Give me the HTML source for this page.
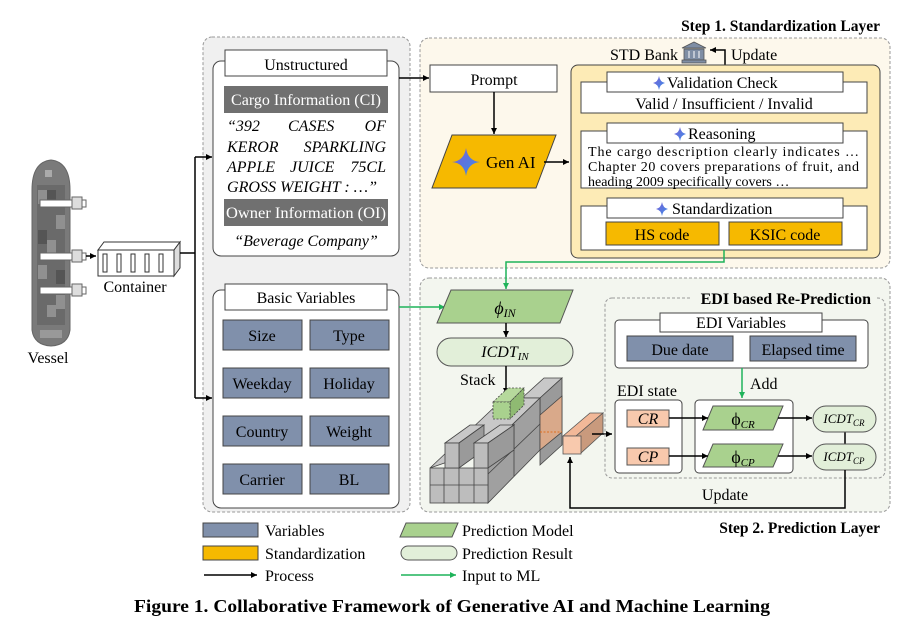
<!DOCTYPE html>
<html><head><meta charset="utf-8"><style>
html,body{margin:0;padding:0;background:#fff;font-family:"Liberation Serif",serif}
svg{display:block;font-family:"Liberation Serif",serif}
svg text, svg tspan{font-family:"Liberation Serif",serif !important}
</style></head><body>
<svg width="918" height="632" viewBox="0 0 918 632" xmlns="http://www.w3.org/2000/svg" style="font-family:'Liberation Serif',serif">
<defs>
<marker id="ab" markerWidth="8" markerHeight="8" refX="6" refY="3" orient="auto" markerUnits="userSpaceOnUse"><path d="M0,0 L6,3 L0,6 z" fill="#000"/></marker>
<marker id="ag" markerWidth="8" markerHeight="8" refX="6" refY="3" orient="auto" markerUnits="userSpaceOnUse"><path d="M0,0 L6,3 L0,6 z" fill="#1fb35a"/></marker>
<linearGradient id="star" x1="0" y1="0" x2="1" y2="1"><stop offset="0" stop-color="#7b5fd6"/><stop offset="1" stop-color="#3a8ee8"/></linearGradient>
</defs>
<g font-size="16" style="font-family:'Liberation Serif',serif">
<text x="880" y="31" text-anchor="end" font-weight="bold" font-size="15.5">Step 1. Standardization Layer</text>
<text x="880" y="533" text-anchor="end" font-weight="bold" font-size="15.5">Step 2. Prediction Layer</text>

<rect x="203" y="37" width="207" height="475" rx="9" fill="#f0f0f0" stroke="#999" stroke-dasharray="3,2"/>
<rect x="213" y="61" width="186" height="195" rx="8" fill="#fff" stroke="#444"/>
<rect x="225" y="50" width="162" height="26" fill="#fff" stroke="#444"/>
<text x="306" y="70" text-anchor="middle">Unstructured</text>
<rect x="224" y="86" width="164" height="27" fill="#707070"/>
<text x="306" y="105" text-anchor="middle" fill="#fff">Cargo Information (CI)</text>
<g font-style="italic">
<text x="227" y="131">“392</text><text x="288" y="131">CASES</text><text x="386" y="131" text-anchor="end">OF</text>
<text x="227" y="152">KEROR</text><text x="386" y="152" text-anchor="end">SPARKLING</text>
<text x="227" y="172">APPLE</text><text x="290" y="172">JUICE</text><text x="386" y="172" text-anchor="end">75CL</text>
<text x="227" y="192" textLength="150" lengthAdjust="spacingAndGlyphs">GROSS WEIGHT : …”</text>
</g>
<rect x="224" y="199" width="164" height="27" fill="#707070"/>
<text x="306" y="218" text-anchor="middle" fill="#fff" textLength="160" lengthAdjust="spacingAndGlyphs">Owner Information (OI)</text>
<text x="306" y="246" text-anchor="middle" font-style="italic">“Beverage Company”</text>

<rect x="213" y="290" width="186" height="218" rx="8" fill="#fff" stroke="#444"/>
<rect x="225" y="284" width="162" height="26" fill="#fff" stroke="#444"/>
<text x="306" y="303" text-anchor="middle">Basic Variables</text>
<g fill="#8090ab" stroke="#444">
<rect x="223" y="320" width="79" height="30"/><rect x="310" y="320" width="79" height="30"/>
<rect x="223" y="368" width="79" height="30"/><rect x="310" y="368" width="79" height="30"/>
<rect x="223" y="416" width="79" height="30"/><rect x="310" y="416" width="79" height="30"/>
<rect x="223" y="464" width="79" height="30"/><rect x="310" y="464" width="79" height="30"/>
</g>
<g text-anchor="middle">
<text x="262" y="341">Size</text><text x="349" y="341">Type</text>
<text x="262" y="389">Weekday</text><text x="349" y="389">Holiday</text>
<text x="262" y="437">Country</text><text x="349" y="437">Weight</text>
<text x="262" y="485">Carrier</text><text x="349" y="485">BL</text>
</g>

<path d="M32,190 Q32,162 51,160 Q70,162 70,190 L70,330 Q68,345 51,346 Q34,345 32,330 Z" fill="#7a7a7a" stroke="#666"/>
<rect x="37" y="185" width="28" height="140" fill="#6a6a6a"/>
<g fill="#909090"><rect x="38" y="190" width="9" height="14"/><rect x="56" y="215" width="9" height="14"/><rect x="47" y="240" width="9" height="14"/><rect x="38" y="265" width="9" height="14"/><rect x="56" y="295" width="9" height="14"/><rect x="47" y="305" width="9" height="12"/></g>
<g fill="#555"><rect x="47" y="190" width="9" height="14"/><rect x="38" y="230" width="9" height="14"/><rect x="56" y="270" width="9" height="14"/></g>
<rect x="45" y="170" width="7" height="7" fill="#aaa"/>
<rect x="40" y="330" width="22" height="8" fill="#999"/>
<g fill="#fff" stroke="#666">
<rect x="40" y="200" width="32" height="7"/><rect x="72" y="197" width="10" height="12" fill="#ddd"/><rect x="82" y="200" width="4" height="7"/>
<rect x="40" y="253" width="32" height="7"/><rect x="72" y="250" width="10" height="12" fill="#ddd"/><rect x="82" y="253" width="4" height="7"/>
<rect x="40" y="287" width="32" height="7"/><rect x="72" y="284" width="10" height="12" fill="#ddd"/><rect x="82" y="287" width="4" height="7"/>
</g>
<text x="48" y="363" text-anchor="middle">Vessel</text>
<line x1="86" y1="256" x2="96" y2="256" stroke="#000" stroke-width="1.5" marker-end="url(#ab)"/>
<path d="M98,250 L104,242 L180,242 L174,250 Z" fill="#fff" stroke="#333"/>
<path d="M174,250 L180,242 L180,268 L174,276 Z" fill="#ddd" stroke="#333"/>
<rect x="98" y="250" width="76" height="26" fill="#fff" stroke="#333"/>
<g fill="#fff" stroke="#333"><rect x="103" y="254" width="4" height="18"/><rect x="117" y="254" width="4" height="18"/><rect x="131" y="254" width="4" height="18"/><rect x="145" y="254" width="4" height="18"/><rect x="159" y="254" width="4" height="18"/></g>
<text x="135" y="292" text-anchor="middle">Container</text>
<path d="M180,253 L195,253" stroke="#000" stroke-width="1.5" fill="none"/>
<path d="M195,157 L195,398" stroke="#000" stroke-width="1.5" fill="none"/>
<line x1="195" y1="157" x2="212" y2="157" stroke="#000" stroke-width="1.5" marker-end="url(#ab)"/>
<line x1="195" y1="398" x2="212" y2="398" stroke="#000" stroke-width="1.5" marker-end="url(#ab)"/>

<rect x="420" y="38" width="470" height="230" rx="9" fill="#fdf8ec" stroke="#999" stroke-dasharray="3,2"/>
<line x1="399" y1="78" x2="429" y2="78" stroke="#000" stroke-width="1.5" marker-end="url(#ab)"/>
<rect x="430" y="65" width="127" height="27" fill="#fff" stroke="#444"/>
<text x="494" y="85" text-anchor="middle">Prompt</text>
<line x1="494" y1="92" x2="494" y2="134" stroke="#000" stroke-width="1.5" marker-end="url(#ab)"/>
<path d="M452,135 L556,135 L536,188 L432,188 Z" fill="#f6b900" stroke="#444"/>
<path d="M466,148 Q468,161 480,162 Q468,163 466,176 Q464,163 452,162 Q464,161 466,148 Z" fill="url(#star)"/>
<text x="486" y="168" font-size="17">Gen AI</text>
<line x1="544" y1="162" x2="569" y2="162" stroke="#000" stroke-width="1.5" marker-end="url(#ab)"/>

<text x="678" y="60" text-anchor="end">STD Bank</text>
<g fill="#7f8ea5" stroke="#555" stroke-width="0.8"><path d="M682,48 L694,42 L706,48 Z"/><rect x="684" y="49" width="20" height="11"/><rect x="682" y="60" width="24" height="3"/></g>
<g stroke="#fff"><line x1="689" y1="51" x2="689" y2="58"/><line x1="694" y1="51" x2="694" y2="58"/><line x1="699" y1="51" x2="699" y2="58"/></g>
<path d="M725,65 L725,50 L710,50" stroke="#000" stroke-width="1.5" fill="none" marker-end="url(#ab)"/>
<text x="731" y="60">Update</text>

<rect x="571" y="65" width="309" height="193" rx="7" fill="#fdebb6" stroke="#444"/>
<rect x="581" y="82" width="286" height="31" fill="#fff" stroke="#444"/>
<rect x="607" y="72" width="236" height="20" fill="#fff" stroke="#444"/>
<path d="M659,76 Q660,82 665,83 Q660,84 659,90 Q658,84 653,83 Q658,82 659,76Z" fill="url(#star)"/>
<text x="667" y="88">Validation Check</text>
<text x="724" y="109" text-anchor="middle">Valid / Insufficient / Invalid</text>

<rect x="581" y="131" width="286" height="57" fill="#fff" stroke="#444"/>
<rect x="607" y="123" width="236" height="20" fill="#fff" stroke="#444"/>
<path d="M680,127 Q681,133 686,134 Q681,135 680,141 Q679,135 674,134 Q679,133 680,127Z" fill="url(#star)"/>
<text x="688" y="139">Reasoning</text>
<g font-size="14">
<text x="588" y="156" textLength="271" lengthAdjust="spacing">The cargo description clearly indicates …</text>
<text x="588" y="171" textLength="271" lengthAdjust="spacing">Chapter 20 covers preparations of fruit, and</text>
<text x="588" y="186">heading 2009 specifically covers …</text>
</g>

<rect x="581" y="206" width="286" height="44" fill="#fff" stroke="#444"/>
<rect x="607" y="198" width="236" height="20" fill="#fff" stroke="#444"/>
<path d="M662,202 Q663,208 668,209 Q663,210 662,216 Q661,210 656,209 Q661,208 662,202Z" fill="url(#star)"/>
<text x="672" y="214">Standardization</text>
<rect x="606" y="222" width="113" height="23" fill="#f6b900" stroke="#444"/>
<rect x="729" y="222" width="113" height="23" fill="#f6b900" stroke="#444"/>
<text x="662" y="240" text-anchor="middle">HS code</text>
<text x="785" y="240" text-anchor="middle">KSIC code</text>

<rect x="420" y="278" width="470" height="234" rx="9" fill="#f3f6ef" stroke="#999" stroke-dasharray="3,2"/>
<path d="M724,250 L724,262 L506,262 L506,289" stroke="#1fb35a" stroke-width="1.5" fill="none" marker-end="url(#ag)"/>
<line x1="399" y1="307" x2="445" y2="307" stroke="#1fb35a" stroke-width="1.5" marker-end="url(#ag)"/>
<path d="M451,290 L573,290 L560,323 L437,323 Z" fill="#a9d18e" stroke="#555"/>
<text x="505" y="314" text-anchor="middle" font-style="italic" font-size="18">ϕ<tspan font-size="12" dy="3">IN</tspan></text>
<line x1="506" y1="323" x2="506" y2="337" stroke="#000" stroke-width="1.5" marker-end="url(#ab)"/>
<rect x="437" y="338" width="136" height="28" rx="14" fill="#e2efd9" stroke="#555"/>
<text x="505" y="357" text-anchor="middle" font-style="italic" font-size="16">ICDT<tspan font-size="11" dy="3">IN</tspan></text>
<text x="460" y="385">Stack</text>
<line x1="506" y1="366" x2="506" y2="394" stroke="#000" stroke-width="1.5" marker-end="url(#ab)"/>

<g stroke="#444" stroke-width="0.8">
<path d="M522,398 L544,378 L562,378 L540,398 Z" fill="#c8c8c8"/>
<path d="M540,398 L562,378 L562,445 L540,465 Z" fill="#9a9a9a"/>
<rect x="522" y="398" width="18" height="20" fill="#bdbdbd"/>
<path d="M430,468 L504,398 L540,398 L488,448 Z" fill="#c8c8c8"/>
<path d="M488,448 L540,398 L540,450 L488,503 Z" fill="#a0a0a0"/>
<path d="M540,415 L562,396 L562,432 L540,450 Z" fill="#d9a98a"/>
<path d="M488,474 L540,424 M514,424 L514,476" fill="none"/>
<rect x="430" y="468" width="58" height="35" fill="#bdbdbd"/>
<path d="M430,485 L488,485 M444,468 L444,503 M459,468 L459,503 M474,468 L474,503" fill="none"/>
<path d="M445,443 L470,425 L484,425 L459,443 Z" fill="#c8c8c8"/>
<path d="M459,443 L484,425 L484,450 L459,468 Z" fill="#9a9a9a"/>
<rect x="445" y="443" width="14" height="25" fill="#bdbdbd"/>
<path d="M474,443 L500,425 L514,425 L488,443 Z" fill="#c8c8c8"/>
<path d="M488,443 L514,425 L514,450 L488,468 Z" fill="#9a9a9a"/>
<rect x="474" y="443" width="14" height="25" fill="#bdbdbd"/>
<g stroke-dasharray="2,1.5">
<path d="M493,402 L508,388 L524,388 L510,402 Z" fill="#b6d99c"/>
<path d="M510,402 L524,388 L524,405 L510,419 Z" fill="#8fba72"/>
<rect x="493" y="402" width="17" height="17" fill="#a9d18e"/>
</g>
</g>
<line x1="540" y1="432" x2="562" y2="432" stroke="#e07020" stroke-dasharray="2,1.5"/>
<path d="M563,436 L590,413 L603,413 L576,436 Z" fill="#f2b898" stroke="#555" stroke-width="0.8"/>
<path d="M576,436 L603,413 L603,433 L581,453 Z" fill="#c99a7d" stroke="#555" stroke-width="0.8"/>
<rect x="563" y="436" width="18" height="18" fill="#f8c9ad" stroke="#555" stroke-width="0.8"/>
<line x1="592" y1="434" x2="612" y2="434" stroke="#000" stroke-width="1.5" marker-end="url(#ab)"/>

<rect x="605" y="298" width="280" height="180" rx="7" fill="none" stroke="#999" stroke-dasharray="3,2"/>
<rect x="690" y="290" width="186" height="16" fill="#f3f6ef"/>
<text x="871" y="304" text-anchor="end" font-weight="bold">EDI based Re-Prediction</text>
<rect x="615" y="320" width="253" height="48" rx="4" fill="#fff" stroke="#444"/>
<rect x="660" y="313" width="162" height="19" fill="#fff" stroke="#444"/>
<text x="741" y="328" text-anchor="middle">EDI Variables</text>
<rect x="627" y="336" width="106" height="25" fill="#8090ab" stroke="#444"/>
<rect x="750" y="336" width="106" height="25" fill="#8090ab" stroke="#444"/>
<text x="680" y="355" text-anchor="middle">Due date</text>
<text x="803" y="355" text-anchor="middle">Elapsed time</text>
<line x1="742" y1="368" x2="742" y2="398" stroke="#1fb35a" stroke-width="1.5" marker-end="url(#ag)"/>
<text x="750" y="389">Add</text>
<text x="617" y="396">EDI state</text>
<rect x="615" y="400" width="67" height="73" rx="4" fill="#fff" stroke="#444"/>
<rect x="627" y="410" width="42" height="17" fill="#f8c9ad" stroke="#555"/>
<rect x="627" y="448" width="42" height="17" fill="#f8c9ad" stroke="#555"/>
<text x="648" y="424" text-anchor="middle" font-style="italic">CR</text>
<text x="648" y="462" text-anchor="middle" font-style="italic">CP</text>
<rect x="695" y="400" width="98" height="73" rx="4" fill="#fff" stroke="#444"/>
<path d="M713,406 L783,406 L773,430 L703,430 Z" fill="#a9d18e" stroke="#555"/>
<path d="M713,444 L783,444 L773,467 L703,467 Z" fill="#a9d18e" stroke="#555"/>
<text x="743" y="425" text-anchor="middle" font-size="18">ϕ<tspan font-size="11" font-style="italic" dy="3">CR</tspan></text>
<text x="743" y="463" text-anchor="middle" font-size="18">ϕ<tspan font-size="11" font-style="italic" dy="3">CP</tspan></text>
<line x1="669" y1="418" x2="708" y2="418" stroke="#000" stroke-width="1.5" marker-end="url(#ab)"/>
<line x1="669" y1="456" x2="708" y2="456" stroke="#000" stroke-width="1.5" marker-end="url(#ab)"/>
<line x1="778" y1="418" x2="812" y2="418" stroke="#000" stroke-width="1.5" marker-end="url(#ab)"/>
<line x1="778" y1="456" x2="812" y2="456" stroke="#000" stroke-width="1.5" marker-end="url(#ab)"/>
<line x1="845" y1="432" x2="845" y2="444" stroke="#000" stroke-width="1.5"/>
<rect x="813" y="406" width="63" height="26" rx="13" fill="#e2efd9" stroke="#555"/>
<rect x="813" y="444" width="63" height="26" rx="13" fill="#e2efd9" stroke="#555"/>
<text x="844" y="423" text-anchor="middle" font-style="italic" font-size="13">ICDT<tspan font-size="9" dy="3">CR</tspan></text>
<text x="844" y="461" text-anchor="middle" font-style="italic" font-size="13">ICDT<tspan font-size="9" dy="3">CP</tspan></text>
<path d="M845,470 L845,508 L570,508 L570,457" stroke="#000" stroke-width="1.5" fill="none" marker-end="url(#ab)"/>
<text x="725" y="500" text-anchor="middle">Update</text>

<rect x="203" y="523" width="55" height="14" fill="#8090ab" stroke="#444"/>
<text x="265" y="536">Variables</text>
<rect x="203" y="546" width="55" height="14" fill="#f6b900" stroke="#444"/>
<text x="265" y="559">Standardization</text>
<line x1="204" y1="575" x2="257" y2="575" stroke="#000" stroke-width="1.5" marker-end="url(#ab)"/>
<text x="265" y="581">Process</text>
<path d="M406,523 L458,523 L452,537 L400,537 Z" fill="#a9d18e" stroke="#555"/>
<text x="462" y="536">Prediction Model</text>
<rect x="401" y="546" width="56" height="14" rx="7" fill="#e2efd9" stroke="#555"/>
<text x="462" y="559">Prediction Result</text>
<line x1="401" y1="575" x2="456" y2="575" stroke="#1fb35a" stroke-width="1.5" marker-end="url(#ag)"/>
<text x="462" y="581">Input to ML</text>

<text x="452" y="612" text-anchor="middle" font-weight="bold" font-size="18" textLength="636" lengthAdjust="spacingAndGlyphs">Figure 1. Collaborative Framework of Generative AI and Machine Learning</text>
</g>
</svg>
</body></html>
